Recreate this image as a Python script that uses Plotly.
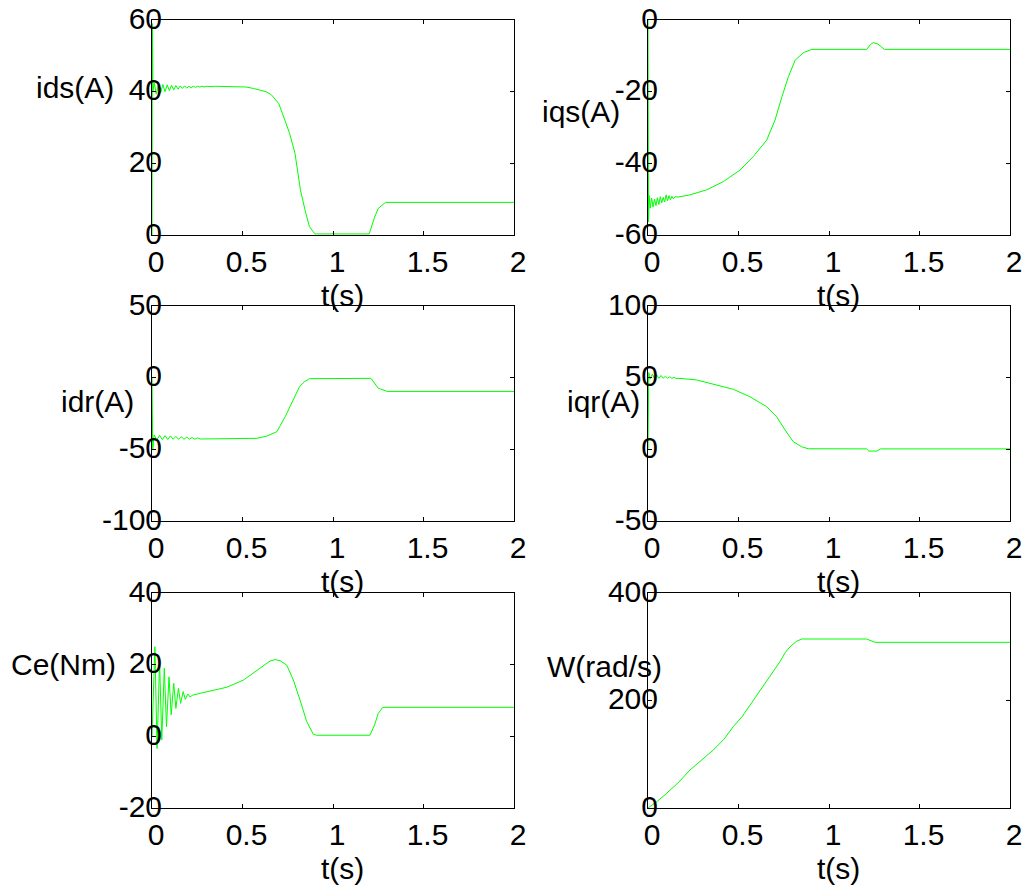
import plotly.graph_objects as go

FONT = "Liberation Sans, Arial, sans-serif"
GREEN = "#00ff00"
FIG_W, FIG_H = 1024, 888

# ---------------- data ----------------
x_ticks = [0, 0.5, 1, 1.5, 2]
x_ticktext = ["0", "0.5", "1", "1.5", "2"]

# ids(A)
t_ids = [0, 0.002, 0.005, 0.012, 0.024, 0.036, 0.048, 0.060, 0.072, 0.084, 0.096, 0.108,
         0.120, 0.132, 0.144, 0.156, 0.168, 0.180, 0.192, 0.204, 0.216, 0.228, 0.240,
         0.252, 0.264, 0.276, 0.288, 0.300, 0.320, 0.350, 0.52, 0.56, 0.60, 0.63, 0.66,
         0.68, 0.70, 0.72, 0.74, 0.76, 0.79, 0.82, 0.85, 0.87, 0.90, 1.20, 1.23, 1.25,
         1.29, 2.0]
v_ids = [0, 59, 40, 42.5, 39.3, 42.2, 39.7, 42.0, 40.0, 41.9, 40.3, 41.8,
         40.5, 41.7, 40.7, 41.6, 40.9, 41.6, 41.0, 41.5, 41.1, 41.5, 41.2,
         41.5, 41.3, 41.5, 41.3, 41.5, 41.4, 41.5, 41.3, 40.9, 40.5, 40.0, 39.1,
         38.0, 36.7, 34.0, 31.0, 28.4, 22.8, 12.6, 6.0, 2.3, 0.3, 0.3, 5.0, 7.4,
         9.1, 9.1]

# iqs(A)
t_iqs = [0, 0.003, 0.006, 0.012, 0.020, 0.028, 0.036, 0.044, 0.052, 0.060, 0.068, 0.076,
         0.084, 0.092, 0.100, 0.108, 0.116, 0.124, 0.132, 0.140, 0.150, 0.166, 0.232,
         0.324, 0.416, 0.508, 0.582, 0.656, 0.702, 0.74, 0.776, 0.813, 0.859, 0.905,
         1.208, 1.23, 1.245, 1.27, 1.306, 2.0]
v_iqs = [0, -56.3, -49.0, -52.5, -49.7, -52.2, -50.0, -51.8, -49.6, -51.5, -49.3, -51.0,
         -49.5, -50.8, -48.8, -50.5, -49.0, -50.2, -49.2, -49.9, -49.3, -49.4, -48.8,
         -47.4, -45.1, -41.9, -38.1, -33.5, -27.9, -21.4, -15.8, -11.2, -9.1, -8.2,
         -8.2, -6.8, -6.3, -6.7, -8.2, -8.2]

# idr(A)
t_idr = [0, 0.004, 0.012, 0.027, 0.042, 0.057, 0.072, 0.087, 0.102, 0.117, 0.132, 0.147,
         0.162, 0.177, 0.192, 0.207, 0.222, 0.237, 0.252, 0.267, 0.58, 0.635, 0.69,
         0.736, 0.78, 0.815, 0.843, 0.87, 1.21, 1.25, 1.30, 2.0]
v_idr = [0, -50.5, -40.0, -43.3, -40.2, -43.2, -40.4, -43.1, -40.6, -43.0, -40.9, -43.0,
         -41.2, -43.0, -41.5, -42.9, -41.8, -42.9, -42.0, -42.8, -42.3, -40.7, -37.7,
         -27.2, -15.6, -6.3, -2.8, -0.7, -0.5, -7.4, -9.6, -9.6]

# iqr(A)
t_iqr = [0, 0.004, 0.012, 0.024, 0.036, 0.048, 0.060, 0.072, 0.084, 0.096, 0.108, 0.120,
         0.132, 0.144, 0.156, 0.177, 0.269, 0.379, 0.471, 0.563, 0.656, 0.711, 0.757,
         0.803, 0.849, 0.886, 1.208, 1.22, 1.265, 1.285, 2.0]
v_iqr = [0, 53.5, 49.0, 52.5, 49.3, 52.0, 49.5, 51.5, 49.6, 51.0, 49.6, 50.6,
         49.5, 50.2, 49.4, 49.5, 48.4, 44.9, 41.9, 36.7, 29.7, 22.7, 13.5,
         5.3, 1.8, 0.4, 0.3, -1.2, -1.2, 0.3, 0.3]

# Ce(Nm)
t_ce = [0, 0.006, 0.016, 0.028, 0.042, 0.054, 0.068, 0.080, 0.094, 0.106, 0.120, 0.132,
        0.146, 0.158, 0.172, 0.184, 0.198, 0.210, 0.225, 0.265, 0.413, 0.505, 0.597,
        0.652, 0.68, 0.707, 0.744, 0.781, 0.818, 0.855, 0.891, 0.91, 1.204, 1.23, 1.25,
        1.275, 2.0]
v_ce = [0, 12.0, 25.0, -3.4, 21.0, -1.0, 19.0, 2.7, 16.6, 6.0, 14.8, 7.8,
        13.4, 9.2, 12.5, 10.3, 11.8, 11.0, 11.5, 12.0, 13.7, 15.7, 19.0,
        21.0, 21.4, 21.1, 19.9, 15.7, 10.1, 4.1, 0.6, 0.3, 0.3, 3.2, 6.4,
        8.1, 8.1]

# W(rad/s)
t_w = [0, 0.05, 0.103, 0.17, 0.232, 0.30, 0.361, 0.42, 0.471, 0.52, 0.564, 0.61,
       0.656, 0.70, 0.729, 0.76, 0.785, 0.82, 0.849, 1.208, 1.235, 1.254, 2.0]
v_w = [0, 12, 27.3, 48, 70.7, 90, 107.9, 128, 151.3, 170, 191.6, 214,
       238, 258, 272.2, 290, 300, 310, 314.4, 314.4, 310, 308.2, 308.2]

y_ranges = [[0, 60], [-60, 0], [-100, 50], [-50, 100], [-20, 40], [0, 400]]
y_tickvals = [[0, 20, 40, 60], [-60, -40, -20, 0], [-100, -50, 0, 50],
              [-50, 0, 50, 100], [-20, 0, 20, 40], [0, 200, 400]]
y_ticktext = [["0", "20", "40", "60"], ["-60", "-40", "-20", "0"],
              ["-100", "-50", "0", "50"], ["-50", "0", "50", "100"],
              ["-20", "0", "20", "40"], ["0", "200", "400"]]
y_labels = ["ids(A)", "iqs(A)", "idr(A)", "iqr(A)", "Ce(Nm)", "W(rad/s)"]
x_label = "t(s)"

series = [(t_ids, v_ids), (t_iqs, v_iqs), (t_idr, v_idr),
          (t_iqr, v_iqr), (t_ce, v_ce), (t_w, v_w)]

# ---------------- layout geometry (pixels) ----------------
col_px = [(152, 514), (648, 1010)]
row_px = [(20, 235), (306, 521), (593, 808)]
ylabel_pos = [(75, 88), (581, 111), (97, 401), (603, 401), (63, 664), (604, 666)]
xlabel_dy = 60  # px below plot bottom

fig = go.Figure()
layout = dict(width=FIG_W, height=FIG_H, margin=dict(l=0, r=0, t=0, b=0, pad=0),
              paper_bgcolor="white", plot_bgcolor="white", showlegend=False,
              font=dict(family=FONT, size=30, color="black"))
annotations = []

for i, (t, v) in enumerate(series):
    r, c = divmod(i, 2)
    n = "" if i == 0 else str(i + 1)
    x0, x1 = col_px[c]
    y0, y1 = row_px[r]
    fig.add_trace(go.Scatter(x=t, y=v, mode="lines", xaxis="x" + n, yaxis="y" + n,
                             line=dict(color=GREEN, width=1), hoverinfo="skip"))
    common = dict(showline=True, linecolor="black", linewidth=1, mirror="ticks",
                  ticks="inside", ticklen=4, tickcolor="black", tickwidth=1,
                  showgrid=False, zeroline=False, fixedrange=True, automargin=False,
                  tickfont=dict(family=FONT, size=30, color="black"))
    layout["xaxis" + n] = dict(common, domain=[x0 / FIG_W, x1 / FIG_W], anchor="y" + n,
                               range=[0, 2], tickvals=x_ticks, ticktext=x_ticktext,
                               ticklabelshift=4)
    layout["yaxis" + n] = dict(common, domain=[1 - y1 / FIG_H, 1 - y0 / FIG_H],
                               anchor="x" + n, range=y_ranges[i],
                               tickvals=y_tickvals[i], ticktext=y_ticktext[i],
                               ticklabelstandoff=-17, ticklabelshift=-2)
    lx, ly = ylabel_pos[i]
    annotations.append(dict(text=y_labels[i], x=lx / FIG_W, y=1 - ly / FIG_H,
                            xref="paper", yref="paper", xanchor="center",
                            yanchor="middle", showarrow=False,
                            font=dict(family=FONT, size=30, color="black")))
    annotations.append(dict(text=x_label, x=((x0 + x1) / 2 + 9) / FIG_W,
                            y=1 - (y1 + xlabel_dy) / FIG_H,
                            xref="paper", yref="paper", xanchor="center",
                            yanchor="middle", showarrow=False,
                            font=dict(family=FONT, size=30, color="black")))

layout["annotations"] = annotations
fig.update_layout(**layout)
fig.write_html("out.html")
